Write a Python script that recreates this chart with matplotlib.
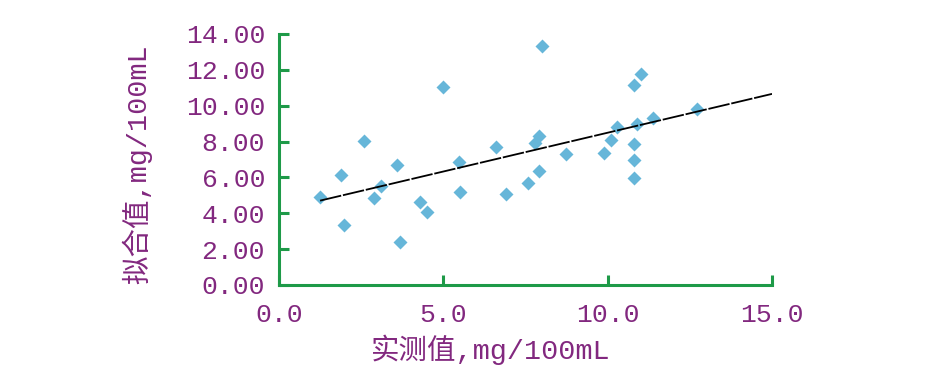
import numpy as np
import matplotlib.pyplot as plt

# data
measured = [1.25, 1.89, 1.98, 2.59, 2.89, 3.10, 3.59, 3.68, 4.29, 4.50,
            4.99, 5.48, 5.51, 6.60, 6.91, 7.58, 7.79, 7.91, 7.91, 7.99,
            8.72, 9.90, 10.11, 10.29, 10.80, 11.01, 10.80, 10.80, 10.80, 10.89,
            11.39, 12.71]
fitted = [4.91, 6.12, 3.35, 8.03, 4.85, 5.52, 6.69, 2.40, 4.63, 4.07,
          11.04, 6.84, 5.19, 7.71, 5.09, 5.71, 7.94, 8.31, 6.36, 13.33,
          7.29, 7.36, 8.09, 8.80, 11.15, 11.75, 7.85, 6.97, 5.95, 8.96,
          9.33, 9.80]
xticks = [0, 5, 10, 15]
yticks = [0, 2, 4, 6, 8, 10, 12, 14]

purple = '#82287f'
green = '#1e9a48'
blue = '#66b6d9'
fonts = ['Liberation Mono', 'Noto Sans CJK SC']

x = np.array(measured)
y = np.array(fitted)

fig = plt.figure(figsize=(9.35, 3.89), dpi=100)
ax = fig.add_axes([0.2984, 0.2674, 0.5273, 0.6452])

ax.plot(x, y, 'D', color=blue, ms=7.5, mec='none', zorder=2)

# linear trendline, extended to the end of the axis
k, b = np.polyfit(x, y, 1)
xl = np.array([x.min(), xticks[-1]])
ax.plot(xl, k * xl + b, color='black', lw=1.3, dashes=(12, 1), zorder=3)

ax.set_xlim(xticks[0], xticks[-1])
ax.set_ylim(yticks[0], yticks[-1])
ax.set_xticks(xticks)
ax.set_yticks(yticks)
ax.set_xticklabels(['%.1f' % v for v in xticks])
ax.set_yticklabels(['%.2f' % v for v in yticks])

for s in ['top', 'right']:
    ax.spines[s].set_visible(False)
for s in ['left', 'bottom']:
    ax.spines[s].set_color(green)
    ax.spines[s].set_linewidth(2.2)
ax.tick_params(direction='in', length=7, width=2.2, color=green,
               labelcolor=purple, labelsize=19)
ax.tick_params(axis='x', pad=13)
ax.tick_params(axis='y', pad=10)
for t in ax.get_xticklabels() + ax.get_yticklabels():
    t.set_family(fonts)

ax.set_xlabel('实测值,mg/100mL', color=purple, fontsize=20.5, family=fonts)
ax.set_ylabel('拟合值,mg/100mL', color=purple, fontsize=20.5, family=fonts)
ax.xaxis.set_label_coords(0.43, -0.26)
ax.xaxis.label.set_va('center')
ax.yaxis.set_label_coords(-0.288, 0.482)
ax.yaxis.label.set_va('center')

fig.savefig('out.png', dpi=100)
